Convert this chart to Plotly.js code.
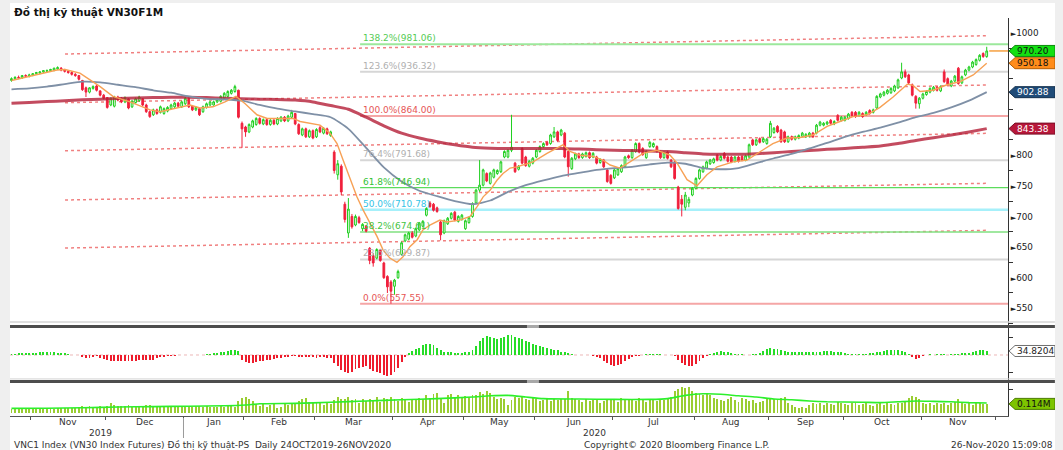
<!DOCTYPE html>
<html><head><meta charset="utf-8">
<script src="https://cdn.plot.ly/plotly-3.0.1.min.js"></script>
<style>
html,body{margin:0;padding:0;background:#efefef;width:1063px;height:450px;overflow:hidden;}
#chart{position:absolute;left:10px;top:3px;width:1045px;height:447px;background:#fff;}
</style></head><body><div id="chart"></div>
<script>
// ---- daily OHLC, trading-day index 0 = 24 Oct 2019 ... 275 = 26 Nov 2020 ----
const open = [
922,925,927,926,930,929,931,933,934,936,
937,938,939,941,942,939,937,935,932,930,
922,910,903,909,913,905,898,894,882,880,
895,893,887,892,879,886,889,892,882,871,
866,874,870,868,872,876,879,885,879,884,
893,880,874,876,871,878,882,882,887,888,
893,896,901,904,906,852,846,838,846,850,
860,851,858,850,857,851,856,862,856,862,
868,850,833,843,830,840,830,845,836,843,
832,805,768,782,720,673,700,686,698,680,
684,648,636,632,645,624,602,593,586,600,
638,660,663,673,668,678,684,702,722,720,
714,691,673,688,697,707,692,695,680,690,
700,722,743,751,770,754,764,770,773,797,
797,808,787,777,811,797,782,787,797,806,
814,821,819,830,838,833,836,806,778,794,
802,796,798,804,797,797,788,792,776,767,
763,768,773,781,799,796,806,819,811,796,
814,814,814,806,796,805,792,789,748,728,
715,722,735,746,762,773,779,786,788,800,
792,803,797,797,790,797,798,792,797,825,
817,827,822,819,830,837,847,841,838,822,
830,826,828,831,830,831,836,836,849,849,
851,857,851,865,857,857,860,870,870,865,
868,866,873,870,877,895,898,901,902,905,
910,926,936,931,915,896,884,893,899,903,
906,911,905,936,925,913,921,942,918,931,
939,944,948,955,966,961];
const high = [
927,929,930,931,932,933,934,936,937,939,
940,941,943,945,944,941,939,937,934,931,
923,912,911,914,915,906,900,895,894,897,
897,895,896,893,890,894,897,893,884,873,
876,876,881,878,880,884,887,887,889,895,
895,882,880,877,881,886,889,889,893,898,
903,906,908,915,907,855,848,852,858,862,
862,860,860,859,859,862,864,864,866,874,
869,852,845,845,842,842,844,848,846,845,
840,808,792,785,724,730,704,703,701,689,
686,650,640,648,647,626,604,596,598,613,
659,672,675,676,682,691,694,715,725,722,
716,693,695,699,707,709,702,704,695,700,
723,745,792,778,772,773,778,777,791,808,
810,866,789,784,813,799,792,797,810,816,
821,823,835,846,840,843,838,808,797,804,
804,804,806,806,805,799,795,794,778,769,
778,780,785,799,801,810,821,821,813,808,
823,821,816,808,806,807,794,791,750,735,
740,732,748,764,778,783,791,794,796,802,
800,805,799,799,799,799,800,801,819,827,
827,829,829,828,856,846,849,843,840,832,
832,832,834,838,836,838,838,851,856,854,
856,859,857,867,864,864,869,872,872,872,
870,872,875,876,898,902,905,908,911,915,
925,951,940,933,917,898,895,902,906,911,
913,913,914,940,927,923,931,944,930,941,
946,954,958,965,968,977];
const low = [
920,923,924,925,927,927,929,931,932,934,
935,936,937,939,937,935,933,930,928,922,
905,895,901,907,904,896,891,876,880,878,
888,885,885,875,877,884,887,880,869,861,
864,866,868,866,870,874,877,878,877,882,
877,872,872,864,869,876,880,881,885,886,
891,894,899,902,860,812,830,836,844,848,
850,849,848,848,849,849,854,854,854,860,
849,833,831,828,828,826,828,836,834,833,
830,770,760,735,690,665,680,684,688,676,
674,622,618,630,626,598,575,557.55,572,598,
636,658,661,664,666,676,682,700,714,708,
706,661,671,686,695,692,690,693,678,688,
698,720,740,749,756,752,762,768,771,795,
795,805,771,775,785,781,780,785,795,804,
812,815,817,828,822,831,795,765,776,792,
794,794,796,794,795,785,786,779,755,752,
761,766,771,779,794,794,804,803,799,794,
812,812,804,794,794,793,779,760,711,700,
710,715,733,744,760,771,777,784,786,790,
790,793,788,787,788,788,790,790,795,815,
815,819,820,817,828,835,836,820,820,820,
824,824,826,829,828,829,828,834,847,847,
849,850,849,855,855,855,858,863,861,863,
861,864,866,868,875,893,896,899,900,903,
908,924,926,916,896,876,876,891,897,901,
904,904,903,918,914,911,919,915,916,929,
937,942,946,953,959,959];
const close = [
925,927,926,930,929,931,933,935,936,938,
938,940,942,943,939,937,935,932,930,924,
907,903,910,912,906,898,893,878,893,895,
890,887,894,877,888,892,895,882,871,863,
874,868,879,876,878,882,885,880,887,893,
879,874,878,866,879,884,887,887,891,896,
901,904,906,912,862,843,838,850,856,860,
852,858,850,857,851,860,862,856,864,870,
851,835,843,830,840,828,842,838,844,835,
838,775,786,740,695,712,683,700,690,687,
676,628,624,646,628,600,585,578,596,610,
657,670,673,666,680,689,692,713,716,710,
708,670,693,697,705,694,700,702,693,698,
721,743,751,776,758,771,776,775,789,806,
808,813,773,782,787,783,790,795,808,814,
819,817,833,838,824,841,797,781,795,802,
796,802,804,796,803,787,793,781,757,754,
776,778,783,797,796,808,819,805,801,806,
821,819,806,796,804,795,781,762,713,720,
735,728,746,762,776,781,789,792,794,792,
798,795,790,789,797,790,792,799,817,817,
825,821,827,826,852,844,838,822,822,830,
826,830,832,836,834,836,830,849,854,852,
854,852,855,857,862,862,867,865,863,870,
863,870,868,874,896,900,903,906,909,913,
923,936,928,918,898,885,893,900,904,909,
911,906,912,920,916,921,929,917,928,939,
944,952,956,963,961,970.2];

// ---- oscillator histogram (one value per trading day) ----
const osc = [
10,12,14,15,16,17,18,20,22,24,25,24,22,20,18,14,
8,4,0,-4,
-14,-22,-25,-20,-12,
-30,-38,-45,-50,-55,-52,-50,-48,-50,-52,-48,-45,-44,-42,-45,-40,-30,
-20,-15,-10,-8,-5,-4,-3,-2,-1,2,3,2,
4,8,12,16,20,25,30,35,40,44,38,
-40,
-65,-70,-68,-62,-55,-50,-45,-40,-32,-28,-22,-18,-15,
-10,-12,-15,-20,-18,-16,-20,-22,-18,-20,-22,-25,
-70,-100,-130,-150,-160,-145,
-120,-110,-105,-100,-120,-140,
-145,-160,-175,-180,-175,-150,-110,
-60,
-20,15,35,50,65,
85,95,96,90,
60,40,30,25,28,
15,18,20,25,30,45,80,
120,150,165,160,150,140,
150,160,170,175,160,145,
135,125,110,100,90,80,70,
60,50,45,40,30,25,15,
5,3,2,0,-2,-3,-5,
-15,-30,-50,-70,-85,-95,-90,-75,-55,-35,-20,
-10,-5,0,5,8,10,8,5,2,0,-3,-10,
-40,-70,-90,-96,-95,-80,-55,-25,
-5,10,20,28,33,30,25,20,12,8,
5,3,4,6,10,20,35,
50,58,55,48,42,35,
28,25,22,24,26,28,25,22,24,
30,34,36,34,30,28,25,
15,12,8,6,5,8,10,15,20,25,
30,35,40,42,44,40,38,30,
10,-15,-35,-25,
-8,2,5,4,6,8,6,3,5,
8,12,15,18,20,25,
35,40,44,34.8204];

// ---- volume, millions of contracts ----
const vol = [
0.05,0.06,0.05,0.06,0.055,0.06,0.05,0.06,0.055,0.06,0.065,0.06,0.055,0.06,0.065,0.06,0.06,0.065,0.06,0.07,
0.09,0.08,0.085,0.075,0.08,0.085,0.08,0.09,
0.13,
0.1,0.09,0.085,0.09,0.1,0.08,0.085,0.09,0.08,0.095,0.1,0.085,0.09,0.08,0.085,0.09,0.08,0.085,0.075,0.08,
0.085,0.09,0.08,0.085,0.09,0.08,0.085,0.08,0.075,0.08,0.085,0.08,0.09,0.085,0.08,
0.15,0.19,0.2,0.17,0.15,
0.11,0.09,0.12,0.08,0.1,0.13,0.06,0.07,0.12,0.1,0.13,0.11,
0.15,0.17,0.19,0.14,0.12,
0.12,0.13,0.1,0.12,0.11,0.16,
0.2,0.18,0.17,0.2,0.16,0.18,0.12,0.17,0.15,
0.18,0.16,0.2,0.14,0.19,0.18,0.2,0.17,0.15,0.19,0.18,0.14,0.17,
0.16,0.19,0.17,0.22,0.19,0.24,0.25,0.18,0.12,0.22,0.24,
0.2,0.22,0.19,0.21,0.2,0.23,0.22,
0.26,0.24,0.27,0.25,0.2,0.18,
0.19,0.18,0.1,0.16,0.2,0.19,
0.2,0.18,0.16,0.19,0.17,0.15,0.16,0.18,0.15,0.17,0.16,0.18,0.17,
0.28,
0.19,0.18,0.16,0.14,0.17,0.15,0.16,0.18,0.12,0.15,0.17,0.16,0.18,0.14,0.19,0.17,0.16,0.18,0.15,0.19,0.16,0.14,0.17,0.18,0.15,0.17,0.16,0.19,0.2,
0.27,0.3,0.33,0.31,0.32,0.28,0.25,
0.24,0.23,0.25,0.22,0.19,0.17,0.16,
0.15,0.18,0.2,0.16,0.14,0.19,0.17,0.15,0.16,0.13,0.14,0.15,0.17,0.19,0.17,0.16,0.19,
0.2,
0.12,0.1,
0.07,0.06,0.08,0.065,0.1,
0.12,0.11,0.13,0.1,0.12,0.11,0.1,0.14,0.12,0.11,0.1,0.12,0.13,0.1,0.11,0.12,0.1,0.09,0.11,0.12,0.1,0.13,0.11,0.1,0.12,0.13,0.14,
0.19,0.21,0.2,0.18,
0.12,0.11,0.13,0.1,0.12,0.11,0.13,0.1,0.12,0.14,0.17,0.13,0.11,0.12,0.1,0.12,0.13,0.11,0.114];

// ---- moving averages (read at sample days) ----
const maSlowIdx = [0,5,10,15,20,25,30,35,40,45,50,55,60,65,70,75,80,85,90,95,100,105,110,115,120,125,130,135,140,145,150,155,160,165,170,175,180,185,190,195,200,205,210,215,220,225,230,235,240,245,250,255,260,265,270,275];
const maRed = [884.7,886,887.5,889,890.5,891.5,892.5,893.5,894,894.5,894.5,894,893,892,891.5,891,890,887,881,875,862,848,836,828,822,817,813,811.5,811,811,811,811,810,809,808,807.5,807,806,804,802,801.5,801.5,802.5,804,806,807.5,809.5,811,813,815,819,824,828.5,833,838,843.38];
const maGray = [907.5,909,912,916,920,919,915,911,906,902,896,892,891,889,882,876,871.5,867,862,843,812,780,757,742,733,725,720,726,740,751,759,766,771,776,779,781,785,788,786,779,777,779,787,795,802,811,820,830,838,845,853,862,869,878,889,902.88];
const maOrangeIdx = [0,12.8,15.1,19.3,25,28.6,33.4,39.1,41.9,46.1,50.3,53.2,56.8,60.2,63.3,65.9,69.2,72.1,76.6,79.4,81.4,87,89.8,91.8,93.5,95.5,97.4,99.1,101.1,103.1,104.8,106.7,108.7,110.4,112.4,114.4,116,118,120.8,122.8,126.4,129.3,131.3,133,135,136.9,138.6,140.6,142.5,144.2,147.1,151,153.8,155.5,157.5,160.3,164,166.8,168.8,171.6,174.4,178.1,182,185.7,187.7,190.5,193.3,196.1,199,203.5,207.4,211.1,214.7,218.7,222.4,226,230,233.6,237.3,241.3,244.9,248.6,252.6,254.2,256.2,259.9,263.8,267.5,271.2,275];
const maOrange = [922,939,940,934,912,896,887,874,871,876,882,877,879,887,896,884,866,860,860,860,855,849,836,819,792,760,732,711,689,667,645,632,625,634,651,662,678,686,694,691,694,700,716,732,743,759,770,779,781,784,789,803,811,817,806,800,798,792,784,779,789,803,808,800,787,760,750,768,781,789,792,806,819,828,829,833,847,855,863,866,878,895,916,914,904,906,915,920,931,950.18];
const volMaIdx = [0,10,20,30,40,50,60,66,70,80,90,100,110,120,130,135,140,145,150,160,170,180,185,190,195,200,205,210,215,220,225,230,240,245,250,255,260,265,270,275];
const volMa = [0.058,0.06,0.065,0.075,0.08,0.085,0.09,0.1,0.115,0.12,0.135,0.15,0.165,0.18,0.2,0.215,0.22,0.2,0.18,0.175,0.17,0.17,0.18,0.22,0.24,0.235,0.215,0.2,0.175,0.165,0.15,0.14,0.135,0.13,0.14,0.15,0.145,0.14,0.13,0.125];

// ---- Fibonacci retracement levels ----
const fibPct = ['138.2%','123.6%','100.0%','76.4%','61.8%','50.0%','38.2%','23.6%','0.0%'];
const fibVals = [981.06,936.32,864.00,791.68,746.94,710.78,674.61,629.87,557.55];
// ---- trend channel lines (start / end values) ----
const trendStart = [965.2,885.7,807.3,726.8,648.4];
const trendEnd = [995.1,914.6,835.7,754.1,677.3];
// ---- axis labels ----
const monthBounds = [6,27,49,66,86,108,128,148,170,193,214,235,257,278];
const monthNames = ['Nov','Dec','Jan','Feb','Mar','Apr','May','Jun','Jul','Aug','Sep','Oct','Nov'];
const priceTicks = [550,600,650,700,750,800,850,900,950,1000];
const priceTickHidden = [850,900,950];   // covered by the value boxes in the original
const priceMinor = [525,575,625,675,725,775,825,875,925,975];

// ---------------- styles ----------------
const fibText = ['#55cc55','#b0b0b0','#e65555','#b0b0b0','#33c233','#33c4e6','#44c444','#b0b0b0','#e65555'];
const fibLine = ['#9ce89c','#d6d6d6','#f5a6a6','#d6d6d6','#5cdc5c','#a6f0fa','#80e080','#d6d6d6','#f5a6a6'];
const fibW = [2,2,2,2,1.2,2.5,1.5,2,2];
const F = 'DejaVu Sans';
const X0 = 0.08, X1 = 281.5;
const N = close.length;
const xs = close.map((_, i) => i + 0.5);
const tri = '<span style="font-size:7px">►</span>';

const traces = [
  {type:'candlestick', x:xs, open, high, low, close, xaxis:'x', yaxis:'y',
   increasing:{line:{color:'#1fcf1f',width:1}, fillcolor:'#ffffff'},
   decreasing:{line:{color:'#f0203c',width:1}, fillcolor:'#f0203c'},
   whiskerwidth:0, hoverinfo:'skip'},
  {type:'scatter', mode:'lines', x:maSlowIdx.map(v=>v+0.5), y:maRed, xaxis:'x', yaxis:'y',
   line:{color:'rgba(180,30,55,0.8)', width:3, shape:'spline', smoothing:0.6}},
  {type:'scatter', mode:'lines', x:maSlowIdx.map(v=>v+0.5), y:maGray, xaxis:'x', yaxis:'y',
   line:{color:'#7f90a6', width:1.8, shape:'spline', smoothing:0.6}},
  {type:'scatter', mode:'lines', x:maOrangeIdx.map(v=>v+0.5), y:maOrange, xaxis:'x', yaxis:'y',
   line:{color:'#f7a155', width:1.4}},
  {type:'bar', x:xs, y:osc, xaxis:'x', yaxis:'y2', width:0.55,
   marker:{color:osc.map(v => v >= 0 ? '#27dd27' : '#ee1c2c'), line:{width:0}}},
  {type:'bar', x:xs, y:vol, xaxis:'x', yaxis:'y3', width:0.55,
   marker:{color:'#9acd32', line:{width:0}}},
  {type:'scatter', mode:'lines', x:volMaIdx.map(v=>v+0.5), y:volMa, xaxis:'x', yaxis:'y3',
   line:{color:'#2cf02c', width:1.6, shape:'spline', smoothing:0.5}}
];

const shapes = [];
const annotations = [];
// trend channel
trendStart.forEach((s, k) => shapes.push({type:'line', xref:'x', yref:'y', x0:15.6, x1:275.9, y0:s, y1:trendEnd[k],
  line:{color:'#f08080', width:1.5, dash:'dot'}, layer:'below'}));
// fib lines and labels
fibVals.forEach((v, k) => {
  shapes.push({type:'line', xref:'x', yref:'y', x0:98.8, x1:X1, y0:v, y1:v, line:{color:fibLine[k], width:fibW[k]}, layer:'below'});
  annotations.push({xref:'x', yref:'y', x:99.06, y:v, xanchor:'left', yanchor:'bottom', yshift:-1, showarrow:false,
    text:fibPct[k] + '(' + v.toFixed(2) + ')', font:{family:F, size:9, color:fibText[k]}});
});
// osc zero line
shapes.push({type:'line', xref:'x', yref:'y2', x0:X0, x1:X1, y0:0, y1:0, line:{color:'#ecb8b8', width:1, dash:'dot'}, layer:'below'});
// last-price line
shapes.push({type:'line', xref:'x', yref:'y', x0:N + 0.2, x1:X1, y0:close[N-1], y1:close[N-1], line:{color:'#f5a040', width:1.5}});
// panel separators
const sepY = [0.2249, 0.0867];
shapes.push({type:'line', xref:'paper', yref:'paper', x0:0, x1:1.047, y0:0.2362, y1:0.2362, line:{color:'#d4d4d4', width:1.5}});
shapes.push({type:'line', xref:'paper', yref:'paper', x0:0, x1:1.047, y0:0.0932, y1:0.0932, line:{color:'#d4d4d4', width:1}});
sepY.forEach(y => {
  shapes.push({type:'line', xref:'paper', yref:'paper', x0:0, x1:1.047, y0:y, y1:y, line:{color:'#4d4d4d', width:3}});
  shapes.push({type:'line', xref:'paper', yref:'paper', x0:0.518, x1:0.530, y0:y, y1:y, line:{color:'#a8a8a8', width:3}});
});
// year separator
shapes.push({type:'line', xref:'x', yref:'paper', x0:monthBounds[2], x1:monthBounds[2], y0:-0.005, y1:-0.0553, line:{color:'#9a9a9a', width:1}});

// right-side value boxes
function box(yref, v, fill, border, txt, tcolor) {
  shapes.push({type:'path', xref:'paper', yref:yref, xsizemode:'pixel', ysizemode:'pixel', xanchor:1, yanchor:v,
    path:'M1,0 L7,5.5 L47,5.5 L47,-5.5 L7,-5.5 Z', fillcolor:fill, line:{color:border, width:1}, layer:'above'});
  annotations.push({xref:'paper', yref:yref, x:1 + 7/998, y:v, xanchor:'left', yanchor:'middle', showarrow:false,
    text:txt, font:{family:F, size:9, color:tcolor}});
}
box('y', close[N-1], '#12e012', '#0a8a0a', close[N-1].toFixed(2), '#111');
box('y', maOrange[maOrange.length-1], '#ff8c1a', '#b35c00', maOrange[maOrange.length-1].toFixed(2), '#111');
box('y', maGray[maGray.length-1], '#1f4b78', '#14304d', maGray[maGray.length-1].toFixed(2), '#ffffff');
box('y', maRed[maRed.length-1], '#b8173a', '#7a0f26', maRed[maRed.length-1].toFixed(2), '#ffffff');
box('y2', osc[N-1], '#ffffff', '#707070', String(osc[N-1]), '#222');
box('y3', vol[N-1], '#7dc400', '#4a7a00', vol[N-1].toFixed(3) + 'M', '#111');

// month labels, year labels, texts
for (let k = 0; k < monthNames.length; k++) {
  annotations.push({xref:'x', yref:'paper', x:(monthBounds[k] + monthBounds[k+1]) / 2, y:-0.0151, yanchor:'middle',
    showarrow:false, text:monthNames[k], font:{family:F, size:9, color:'#333'}});
}
annotations.push({xref:'x', yref:'paper', x:25.5, y:-0.0427, yanchor:'middle', showarrow:false, text:'2019', font:{family:F, size:9, color:'#333'}});
annotations.push({xref:'x', yref:'paper', x:165, y:-0.0427, yanchor:'middle', showarrow:false, text:'2020', font:{family:F, size:9, color:'#333'}});
annotations.push({xref:'paper', yref:'paper', x:0.002, y:-0.0729, xanchor:'left', yanchor:'middle', showarrow:false,
  text:'VNC1 Index (VN30 Index Futures) Đồ thị kỹ thuật-PS  Daily 24OCT2019-26NOV2020', font:{family:F, size:9, color:'#333'}});
annotations.push({xref:'paper', yref:'paper', x:0.573, y:-0.0729, xanchor:'left', yanchor:'middle', showarrow:false,
  text:'Copyright© 2020 Bloomberg Finance L.P.', font:{family:F, size:9, color:'#333'}});
annotations.push({xref:'paper', yref:'paper', x:1.047, y:-0.0729, xanchor:'right', yanchor:'middle', showarrow:false,
  text:'26-Nov-2020 15:09:08', font:{family:F, size:9, color:'#333'}});
annotations.push({xref:'paper', yref:'paper', x:0.002, y:1.015, xanchor:'left', yanchor:'middle', showarrow:false,
  text:'<b>Đồ thị kỹ thuật VN30F1M</b>', font:{family:F, size:10.5, color:'#111'}});

const lens = [open.length, high.length, low.length, osc.length, vol.length];
if (lens.some(l => l !== N) || maRed.length !== maSlowIdx.length || maGray.length !== maSlowIdx.length || maOrange.length !== maOrangeIdx.length || volMa.length !== volMaIdx.length) {
  annotations.push({xref:'paper', yref:'paper', x:0.5, y:0.5, showarrow:false, text:'LEN ' + N + ' ' + lens.join(',') + ' ' + maOrange.length + '/' + maOrangeIdx.length, font:{size:20, color:'blue'}});
}

const axY = {side:'right', showline:true, linecolor:'#333', linewidth:1, showgrid:false, zeroline:false,
  ticks:'', tickfont:{family:F, size:8.8, color:'#222'}, anchor:'x', fixedrange:true};
const layout = {
  width:1045, height:447,
  margin:{l:0, r:47, t:15, b:34},
  paper_bgcolor:'#ffffff', plot_bgcolor:'#ffffff',
  showlegend:false, hovermode:false, bargap:0,
  xaxis:{domain:[0,1], range:[X0, X1], anchor:'y3', showline:true, linecolor:'#555', linewidth:1,
    rangeslider:{visible:false},
    ticks:'outside', ticklen:3, tickcolor:'#555', tickmode:'array', tickvals:monthBounds,
    showticklabels:false, showgrid:false, zeroline:false, fixedrange:true},
  yaxis:Object.assign({}, axY, {domain:[0.2286, 1], range:[522.7, 1024], tickmode:'array', tickvals:priceTicks,
    ticktext:priceTicks.map(v => priceTickHidden.includes(v) ? '' : tri + v),
    minor:{tickmode:'array', tickvals:priceMinor, ticks:'outside', ticklen:4, tickcolor:'#333'}}),
  yaxis2:Object.assign({}, axY, {domain:[0.0905, 0.2211], range:[-217.5, 235], tickmode:'array', tickvals:[0], ticktext:[''],
    minor:{tickmode:'array', tickvals:[-150, 150], ticks:'outside', ticklen:4, tickcolor:'#333'}}),
  yaxis3:Object.assign({}, axY, {domain:[0, 0.0829], range:[-0.0375, 0.375], tickmode:'array', tickvals:[0, 0.2], ticktext:['', ''],
    minor:{tickmode:'array', tickvals:[0.3], ticks:'outside', ticklen:4, tickcolor:'#333'}}),
  shapes, annotations
};
Plotly.newPlot('chart', traces, layout, {displayModeBar:false, staticPlot:true});
</script></body></html>
